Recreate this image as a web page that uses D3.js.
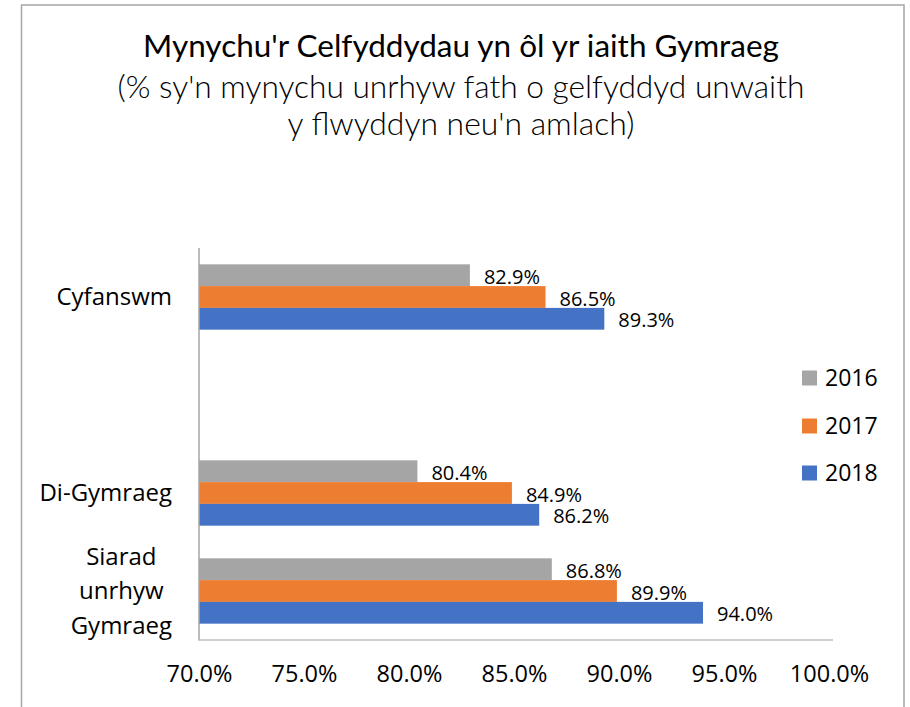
<!DOCTYPE html>
<html>
<head>
<meta charset="utf-8">
<script src="https://cdn.jsdelivr.net/npm/d3@7/dist/d3.min.js"></script>
<style>
  html, body { margin: 0; padding: 0; background: #fff; }
  svg { display: block; }
</style>
</head>
<body>
<svg id="chart" width="910" height="707"></svg>
<script>
// ---- data ----
const titleLines = ["Mynychu'r Celfyddydau yn ôl yr iaith Gymraeg",
                    "(% sy'n mynychu unrhyw fath o gelfyddyd unwaith",
                    "y flwyddyn neu'n amlach)"];
const categories = ["Cyfanswm", "", "Di-Gymraeg", "Siarad unrhyw Gymraeg"];
const categoryLines = [["Cyfanswm"], [], ["Di-Gymraeg"], ["Siarad", "unrhyw", "Gymraeg"]];
const seriesNames = ["2016", "2017", "2018"];
const values2016 = [82.9, null, 80.4, 86.8];
const values2017 = [86.5, null, 84.9, 89.9];
const values2018 = [89.3, null, 86.2, 94.0];
const xTicks = [70, 75, 80, 85, 90, 95, 100];
const colors = ["#A5A5A5", "#ED7D31", "#4472C4"];

const series = [values2016, values2017, values2018];

const svg = d3.select("#chart");
const labelFont = "'Open Sans', 'DejaVu Sans', sans-serif";

// outer border
svg.append("rect").attr("x", 21.5).attr("y", 5).attr("width", 882.5).attr("height", 720)
  .attr("fill", "none").attr("stroke", "#a6a6a6").attr("stroke-width", 1.5);

// title
const titleSpecs = [
  {y: 57, w: 636, weight: 400, size: 28},
  {y: 98, w: 687, weight: 300, size: 27},
  {y: 135, w: 347, weight: 300, size: 27}
];
titleLines.forEach((t, i) => {
  const s = titleSpecs[i];
  const el = svg.append("text")
    .attr("x", 461).attr("y", s.y)
    .attr("text-anchor", "middle")
    .attr("font-family", "Lato, 'Open Sans', sans-serif")
    .attr("font-weight", s.weight)
    .attr("font-size", s.size)
    .attr("fill", "#000")
    .text(t);
  const len = el.node().getComputedTextLength();
  el.attr("font-size", s.size * s.w / len);
});

// scales
const x = d3.scaleLinear().domain([70, 100]).range([199, 829]);
const y = d3.scaleBand().domain(categories.map((c, i) => i)).range([248, 640])
  .paddingInner(1/3).paddingOuter(1/6);
const ySub = d3.scaleBand().domain(seriesNames).range([0, y.bandwidth()]);

// bars
seriesNames.forEach((name, si) => {
  const g = svg.append("g");
  const data = series[si].map((v, ci) => ({v, ci})).filter(d => d.v !== null);
  g.selectAll("rect").data(data).join("rect")
    .attr("x", x(70))
    .attr("y", d => y(d.ci) + ySub(name))
    .attr("width", d => x(d.v) - x(70))
    .attr("height", ySub.bandwidth())
    .attr("fill", colors[si]);
  g.selectAll("text").data(data).join("text")
    .attr("x", d => x(d.v) + 14)
    .attr("y", d => y(d.ci) + ySub(name) + ySub.bandwidth() / 2 + 1.5)
    .attr("dy", "0.35em")
    .attr("font-family", labelFont)
    .attr("font-size", 20)
    .attr("fill", "#000")
    .text(d => d.v.toFixed(1) + "%");
});

// y axis line
svg.append("line").attr("x1", 199).attr("x2", 199).attr("y1", 248).attr("y2", 640)
  .attr("stroke", "#a6a6a6").attr("stroke-width", 1.5);

// x axis
const xAxis = d3.axisBottom(x).tickValues(xTicks).tickSize(0).tickPadding(25)
  .tickFormat(d => d.toFixed(1) + "%");
const gx = svg.append("g").attr("transform", "translate(0,640)").call(xAxis);
gx.select(".domain").attr("stroke", "#bfbfbf").attr("stroke-width", 1.5)
  .attr("d", "M198,0H833");
gx.selectAll("text").attr("font-family", labelFont).attr("font-size", 23.5).attr("fill", "#000");

// category labels
categoryLines.forEach((lines, ci) => {
  if (!lines.length) return;
  const cy = y(ci) + y.bandwidth() / 2;
  const lh = 34.5;
  const t = svg.append("text")
    .attr("font-family", labelFont).attr("font-size", 24).attr("fill", "#000")
    .attr("text-anchor", "middle");
  const spans = lines.map((l, li) => t.append("tspan")
    .attr("y", cy + (li - (lines.length - 1) / 2) * lh).attr("dy", "0.35em").text(l));
  let maxW = 0;
  spans.forEach(s => { maxW = Math.max(maxW, s.node().getComputedTextLength()); });
  spans.forEach(s => s.attr("x", 172 - maxW / 2));
});

// legend
seriesNames.forEach((name, si) => {
  const cy = [378, 426, 473][si];
  svg.append("rect").attr("x", 802).attr("y", cy - 7.5).attr("width", 15).attr("height", 15)
    .attr("fill", colors[si]);
  svg.append("text").attr("x", 825).attr("y", cy).attr("dy", "0.35em")
    .attr("font-family", labelFont).attr("font-size", 23).attr("fill", "#000").text(name);
});
</script>
</body>
</html>
